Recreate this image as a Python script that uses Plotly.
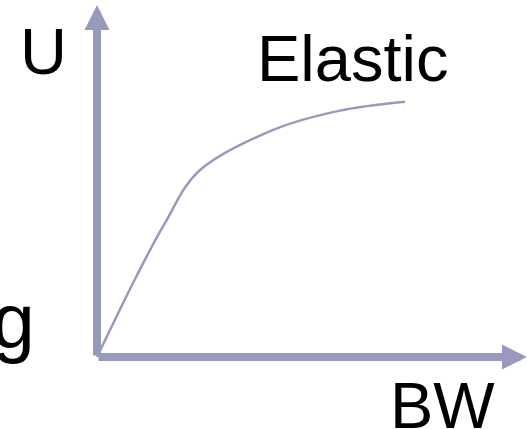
import plotly.graph_objects as go

AXIS_COLOR = "#989abd"
FONT = "Liberation Sans, Arial, sans-serif"

# elastic utility curve (bandwidth vs utility, arbitrary units)
bw = [0.0, 1.29, 2.21, 3.29, 5.72, 7.89, 10.0]
utility = [0.0, 3.20, 5.28, 7.30, 8.94, 9.70, 10.05]

x_label = "BW"
y_label = "U"
curve_label = "Elastic"
cut_label = "g"

fig = go.Figure()

fig.add_trace(go.Scatter(
    x=bw,
    y=utility,
    mode="lines",
    line=dict(color=AXIS_COLOR, width=2.5, shape="spline", smoothing=1.0),
    hoverinfo="skip",
))

# axis arrows
arrow = dict(
    xref="x", yref="y", axref="x", ayref="y",
    text="", showarrow=True,
    arrowhead=2, arrowwidth=8, arrowsize=0.625,
    arrowcolor=AXIS_COLOR, standoff=0,
)
fig.add_annotation(x=13.96, y=0, ax=0, ay=0, **arrow)
fig.add_annotation(x=0, y=13.86, ax=0, ay=0, **arrow)

label_font = dict(family=FONT, size=65, color="black")
fig.add_annotation(x=-1.74, y=12.03, text=y_label, showarrow=False,
                   xanchor="center", yanchor="middle", font=label_font)
fig.add_annotation(x=8.30, y=11.75, text=curve_label, showarrow=False,
                   xanchor="center", yanchor="middle", font=label_font)
fig.add_annotation(x=11.22, y=-1.90, text=x_label, showarrow=False,
                   xanchor="center", yanchor="middle", font=label_font)
fig.add_annotation(x=-1.96, y=1.41, text=cut_label, showarrow=False,
                   xanchor="right", yanchor="middle",
                   font=dict(family=FONT, size=77, color="black"))

fig.update_layout(
    width=529,
    height=429,
    margin=dict(l=0, r=0, t=0, b=0),
    plot_bgcolor="white",
    paper_bgcolor="white",
    showlegend=False,
    xaxis=dict(range=[-3.149, 14.026], visible=False, fixedrange=True),
    yaxis=dict(range=[-2.835, 14.055], visible=False, fixedrange=True),
)

fig.write_html(
    "out.html",
    config={"displayModeBar": False},
    post_script="document.body.style.margin='0';document.body.style.overflow='hidden';",
)
